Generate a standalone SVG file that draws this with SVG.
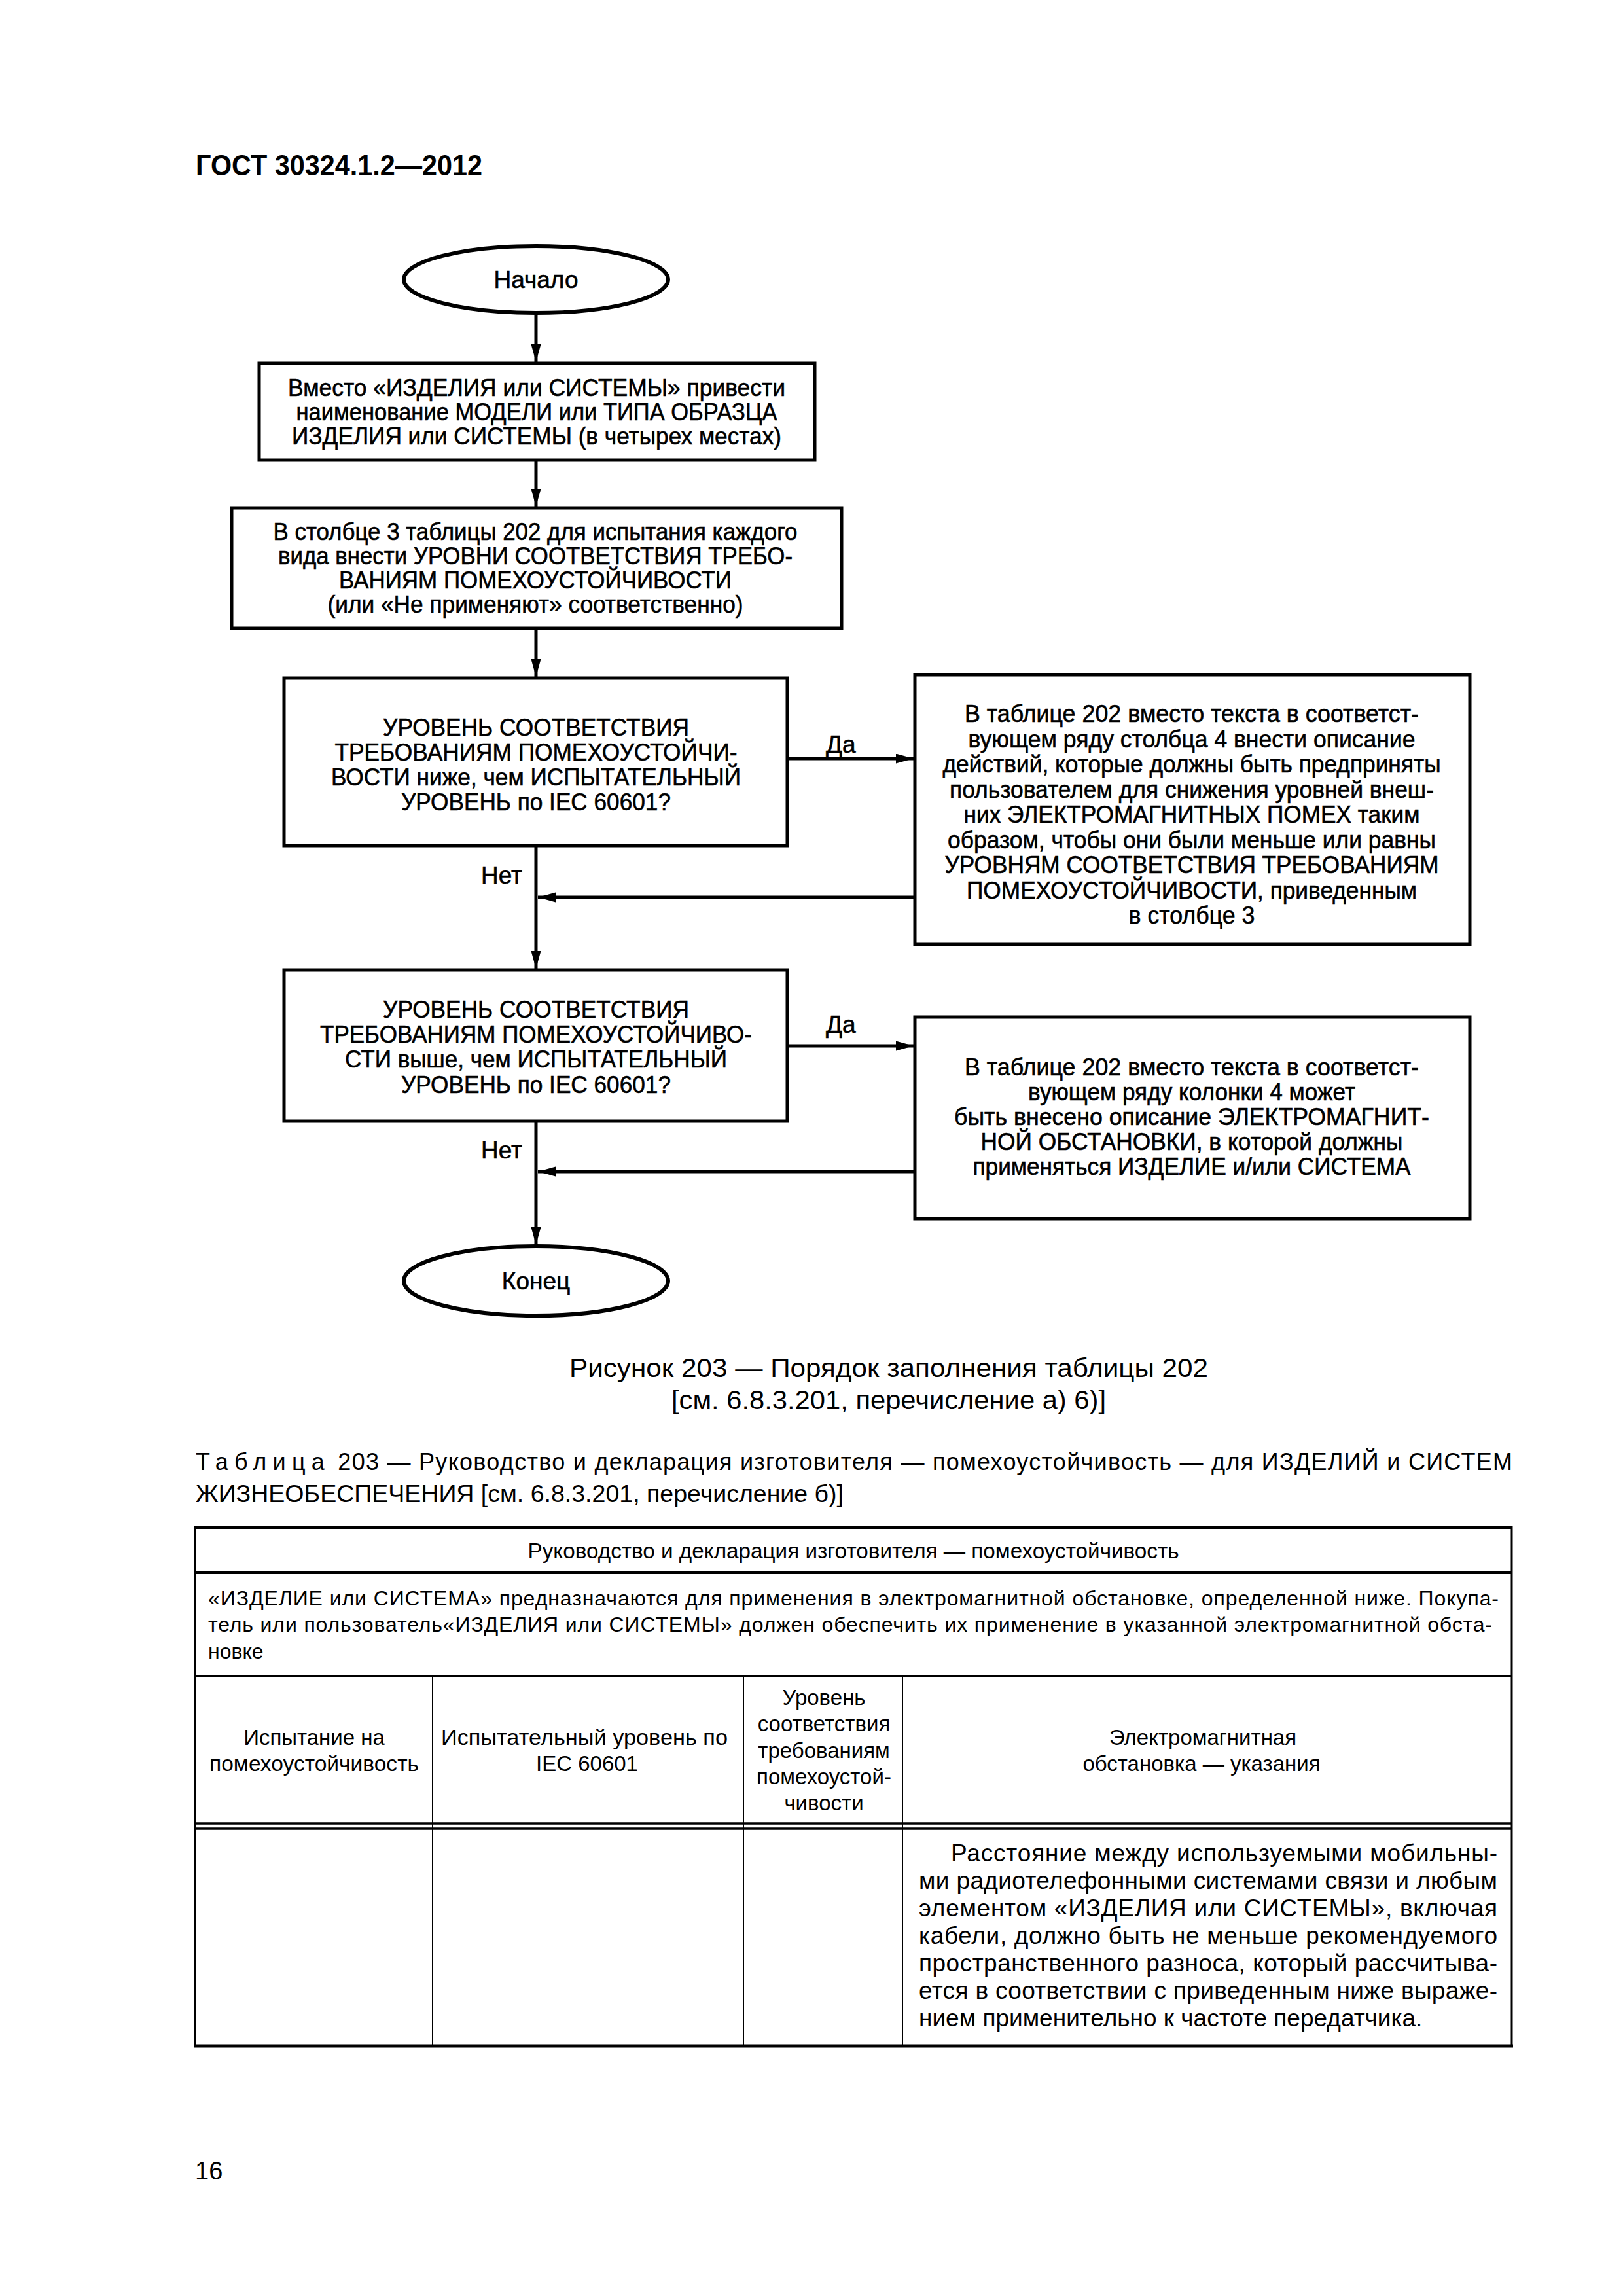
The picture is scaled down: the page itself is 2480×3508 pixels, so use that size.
<svg xmlns="http://www.w3.org/2000/svg" width="2480" height="3508" viewBox="0 0 2480 3508">
<style>
.t{font-family:"Liberation Sans",Arial,sans-serif;fill:#000}
.fc{font-size:37px;text-anchor:middle;stroke:#000;stroke-width:0.6}
.lb{font-size:37px;stroke:#000;stroke-width:0.6}
.tb{font-size:33px}
.box{fill:#fff;stroke:#000;stroke-width:5}
.ell{fill:#fff;stroke:#000;stroke-width:6}
.con{fill:none;stroke:#000;stroke-width:5}
.tl{stroke:#000;fill:none}
</style>
<defs>
<marker id="ah" markerUnits="userSpaceOnUse" markerWidth="28" markerHeight="16" refX="27" refY="7.5" orient="auto">
<path d="M0,0 L27,7.5 L0,15 z" fill="#000"/>
</marker>
</defs>
<rect width="2480" height="3508" fill="#fff"/>
<text class="t" x="299" y="268" font-size="44" font-weight="bold" textLength="438" lengthAdjust="spacingAndGlyphs">ГОСТ 30324.1.2—2012</text>

<g id="connectors">
<path class="con" d="M819,478 V553" marker-end="url(#ah)"/>
<path class="con" d="M819,703 V774" marker-end="url(#ah)"/>
<path class="con" d="M819,960 V1034" marker-end="url(#ah)"/>
<path class="con" d="M819,1292 V1480" marker-end="url(#ah)"/>
<path class="con" d="M819,1713 V1902" marker-end="url(#ah)"/>
<path class="con" d="M1203,1159 H1396" marker-end="url(#ah)"/>
<path class="con" d="M1398,1371 H822" marker-end="url(#ah)"/>
<path class="con" d="M1203,1598 H1396" marker-end="url(#ah)"/>
<path class="con" d="M1398,1790 H822" marker-end="url(#ah)"/>
<text class="t lb" x="1262" y="1150">Да</text>
<text class="t lb" x="1262" y="1578">Да</text>
<text class="t lb" x="798" y="1350" text-anchor="end">Нет</text>
<text class="t lb" x="798" y="1770" text-anchor="end">Нет</text>
</g>

<g id="start">
<ellipse cx="819" cy="427" rx="202" ry="51" class="ell"/>
<text class="t fc" x="819" y="440">Начало</text>
</g>

<g id="box1">
<rect class="box" x="396" y="555" width="849" height="148"/>
<text class="t fc" x="820" y="605" textLength="760" lengthAdjust="spacingAndGlyphs">Вместо «ИЗДЕЛИЯ или СИСТЕМЫ» привести</text>
<text class="t fc" x="820" y="642" textLength="735" lengthAdjust="spacingAndGlyphs">наименование МОДЕЛИ или ТИПА ОБРАЗЦА</text>
<text class="t fc" x="820" y="679" textLength="748" lengthAdjust="spacingAndGlyphs">ИЗДЕЛИЯ или СИСТЕМЫ (в четырех местах)</text>
</g>

<g id="box2">
<rect class="box" x="354" y="776" width="932" height="184"/>
<text class="t fc" x="818" y="825" textLength="801" lengthAdjust="spacingAndGlyphs">В столбце 3 таблицы 202 для испытания каждого</text>
<text class="t fc" x="818" y="862" textLength="786" lengthAdjust="spacingAndGlyphs">вида внести УРОВНИ СООТВЕТСТВИЯ ТРЕБО-</text>
<text class="t fc" x="818" y="899" textLength="600" lengthAdjust="spacingAndGlyphs">ВАНИЯМ ПОМЕХОУСТОЙЧИВОСТИ</text>
<text class="t fc" x="818" y="936" textLength="635" lengthAdjust="spacingAndGlyphs">(или «Не применяют» соответственно)</text>
</g>

<g id="decision1">
<rect class="box" x="434" y="1036" width="769" height="256"/>
<text class="t fc" x="819" y="1124" textLength="468" lengthAdjust="spacingAndGlyphs">УРОВЕНЬ СООТВЕТСТВИЯ</text>
<text class="t fc" x="819" y="1162" textLength="615" lengthAdjust="spacingAndGlyphs">ТРЕБОВАНИЯМ ПОМЕХОУСТОЙЧИ-</text>
<text class="t fc" x="819" y="1200" textLength="626" lengthAdjust="spacingAndGlyphs">ВОСТИ ниже, чем ИСПЫТАТЕЛЬНЫЙ</text>
<text class="t fc" x="819" y="1238" textLength="412" lengthAdjust="spacingAndGlyphs">УРОВЕНЬ по IEC 60601?</text>
</g>

<g id="box4">
<rect class="box" x="1398" y="1031" width="848" height="412"/>
<text class="t fc" x="1821" y="1103" textLength="694" lengthAdjust="spacingAndGlyphs">В таблице 202 вместо текста в соответст-</text>
<text class="t fc" x="1821" y="1142" textLength="683" lengthAdjust="spacingAndGlyphs">вующем ряду столбца 4 внести описание</text>
<text class="t fc" x="1821" y="1180" textLength="761" lengthAdjust="spacingAndGlyphs">действий, которые должны быть предприняты</text>
<text class="t fc" x="1821" y="1219" textLength="740" lengthAdjust="spacingAndGlyphs">пользователем для снижения уровней внеш-</text>
<text class="t fc" x="1821" y="1257" textLength="697" lengthAdjust="spacingAndGlyphs">них ЭЛЕКТРОМАГНИТНЫХ ПОМЕХ таким</text>
<text class="t fc" x="1821" y="1296" textLength="746" lengthAdjust="spacingAndGlyphs">образом, чтобы они были меньше или равны</text>
<text class="t fc" x="1821" y="1334" textLength="755" lengthAdjust="spacingAndGlyphs">УРОВНЯМ СООТВЕТСТВИЯ ТРЕБОВАНИЯМ</text>
<text class="t fc" x="1821" y="1373" textLength="688" lengthAdjust="spacingAndGlyphs">ПОМЕХОУСТОЙЧИВОСТИ, приведенным</text>
<text class="t fc" x="1821" y="1411" textLength="193" lengthAdjust="spacingAndGlyphs">в столбце 3</text>
</g>

<g id="decision2">
<rect class="box" x="434" y="1482" width="769" height="231"/>
<text class="t fc" x="819" y="1555" textLength="468" lengthAdjust="spacingAndGlyphs">УРОВЕНЬ СООТВЕТСТВИЯ</text>
<text class="t fc" x="819" y="1593" textLength="660" lengthAdjust="spacingAndGlyphs">ТРЕБОВАНИЯМ ПОМЕХОУСТОЙЧИВО-</text>
<text class="t fc" x="819" y="1631" textLength="584" lengthAdjust="spacingAndGlyphs">СТИ выше, чем ИСПЫТАТЕЛЬНЫЙ</text>
<text class="t fc" x="819" y="1670" textLength="412" lengthAdjust="spacingAndGlyphs">УРОВЕНЬ по IEC 60601?</text>
</g>

<g id="box6">
<rect class="box" x="1398" y="1554" width="848" height="308"/>
<text class="t fc" x="1821" y="1643" textLength="694" lengthAdjust="spacingAndGlyphs">В таблице 202 вместо текста в соответст-</text>
<text class="t fc" x="1821" y="1681" textLength="500" lengthAdjust="spacingAndGlyphs">вующем ряду колонки 4 может</text>
<text class="t fc" x="1821" y="1719" textLength="726" lengthAdjust="spacingAndGlyphs">быть внесено описание ЭЛЕКТРОМАГНИТ-</text>
<text class="t fc" x="1821" y="1757" textLength="645" lengthAdjust="spacingAndGlyphs">НОЙ ОБСТАНОВКИ, в которой должны</text>
<text class="t fc" x="1821" y="1795" textLength="669" lengthAdjust="spacingAndGlyphs">применяться ИЗДЕЛИЕ и/или СИСТЕМА</text>
</g>

<g id="end">
<ellipse cx="819" cy="1957" rx="202" ry="53" class="ell"/>
<text class="t fc" x="819" y="1970">Конец</text>
</g>

<g id="captions">
<text class="t" x="1358" y="2104" font-size="40" text-anchor="middle" textLength="976" lengthAdjust="spacingAndGlyphs">Рисунок 203  — Порядок заполнения таблицы 202</text>
<text class="t" x="1358" y="2153" font-size="40" text-anchor="middle" textLength="664" lengthAdjust="spacingAndGlyphs">[см. 6.8.3.201, перечисление а) 6)]</text>
<text class="t" x="299" y="2246" font-size="36" textLength="2012" lengthAdjust="spacing"><tspan letter-spacing="8">Таблица</tspan>  203 — Руководство и декларация изготовителя — помехоустойчивость — для ИЗДЕЛИЙ и СИСТЕМ</text>
<text class="t" x="299" y="2295" font-size="36" textLength="990" lengthAdjust="spacingAndGlyphs">ЖИЗНЕОБЕСПЕЧЕНИЯ [см. 6.8.3.201, перечисление б)]</text>
</g>

<g id="table">
<line class="tl" x1="298" y1="2334" x2="2310" y2="2334" stroke-width="4"/>
<line class="tl" x1="298" y1="2403" x2="2310" y2="2403" stroke-width="4"/>
<line class="tl" x1="298" y1="2561" x2="2310" y2="2561" stroke-width="4"/>
<line class="tl" x1="298" y1="2786" x2="2310" y2="2786" stroke-width="3.5"/>
<line class="tl" x1="298" y1="2794" x2="2310" y2="2794" stroke-width="3.5"/>
<line class="tl" x1="296" y1="3126" x2="2312" y2="3126" stroke-width="5"/>
<line class="tl" x1="298" y1="2332" x2="298" y2="3128" stroke-width="2.5"/>
<line class="tl" x1="2310" y1="2332" x2="2310" y2="3128" stroke-width="3"/>
<line class="tl" x1="661" y1="2561" x2="661" y2="3126" stroke-width="2"/>
<line class="tl" x1="1136" y1="2561" x2="1136" y2="3126" stroke-width="2"/>
<line class="tl" x1="1379" y1="2561" x2="1379" y2="3126" stroke-width="2"/>

<text class="t tb" x="1304" y="2381" text-anchor="middle" textLength="995" lengthAdjust="spacingAndGlyphs">Руководство и декларация изготовителя — помехоустойчивость</text>
<text class="t" x="318" y="2453" font-size="32" textLength="1972" lengthAdjust="spacing">«ИЗДЕЛИЕ или СИСТЕМА» предназначаются для применения в электромагнитной обстановке, определенной ниже. Покупа-</text>
<text class="t" x="318" y="2493" font-size="32" textLength="1962" lengthAdjust="spacing">тель или пользователь«ИЗДЕЛИЯ или СИСТЕМЫ» должен обеспечить их применение в указанной электромагнитной обста-</text>
<text class="t" x="318" y="2534" font-size="32">новке</text>

<text class="t tb" x="480" y="2666" text-anchor="middle">Испытание на</text>
<text class="t tb" x="480" y="2706" text-anchor="middle" textLength="320" lengthAdjust="spacingAndGlyphs">помехоустойчивость</text>
<text class="t tb" x="893" y="2666" text-anchor="middle" textLength="438" lengthAdjust="spacingAndGlyphs">Испытательный уровень по</text>
<text class="t tb" x="897" y="2706" text-anchor="middle">IEC 60601</text>
<text class="t tb" x="1259" y="2605" text-anchor="middle">Уровень</text>
<text class="t tb" x="1259" y="2645" text-anchor="middle">соответствия</text>
<text class="t tb" x="1259" y="2686" text-anchor="middle">требованиям</text>
<text class="t tb" x="1259" y="2726" text-anchor="middle">помехоустой-</text>
<text class="t tb" x="1259" y="2766" text-anchor="middle">чивости</text>
<text class="t tb" x="1838" y="2666" text-anchor="middle">Электромагнитная</text>
<text class="t tb" x="1836" y="2706" text-anchor="middle">обстановка — указания</text>

<text class="t" x="1453" y="2844" font-size="37" textLength="835" lengthAdjust="spacing">Расстояние между используемыми мобильны-</text>
<text class="t" x="1404" y="2886" font-size="37" textLength="884" lengthAdjust="spacing">ми радиотелефонными системами связи и любым</text>
<text class="t" x="1404" y="2928" font-size="37" textLength="884" lengthAdjust="spacing">элементом «ИЗДЕЛИЯ или СИСТЕМЫ», включая</text>
<text class="t" x="1404" y="2970" font-size="37" textLength="884" lengthAdjust="spacing">кабели, должно быть не меньше рекомендуемого</text>
<text class="t" x="1404" y="3012" font-size="37" textLength="884" lengthAdjust="spacing">пространственного разноса, который рассчитыва-</text>
<text class="t" x="1404" y="3054" font-size="37" textLength="884" lengthAdjust="spacing">ется в соответствии с приведенным ниже выраже-</text>
<text class="t" x="1404" y="3096" font-size="37">нием применительно к частоте передатчика.</text>
</g>

<text class="t" x="298" y="3330" font-size="38">16</text>
</svg>
